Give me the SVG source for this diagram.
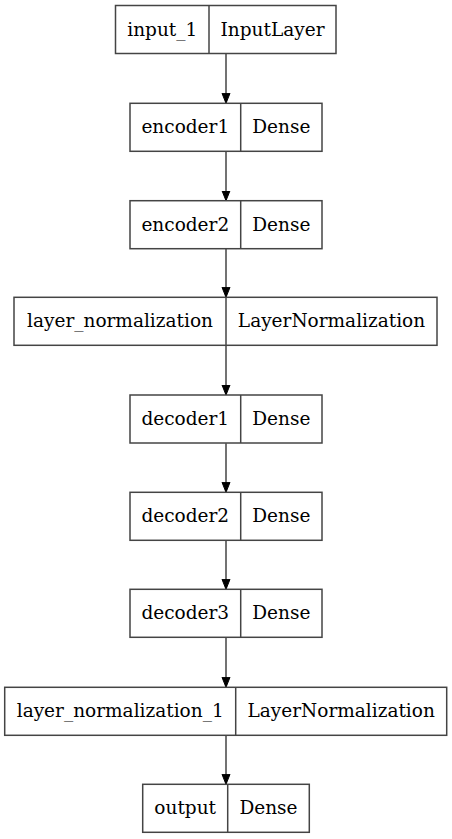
<svg xmlns="http://www.w3.org/2000/svg" width="452" height="839" viewBox="0 0 452 839">
<defs>
<style>
.box{fill:#fff;stroke:#444;stroke-width:1.5}
.div{stroke:#444;stroke-width:1.5}
.t{font-family:"DejaVu Serif","Liberation Serif",serif;font-size:18.5px;fill:#000;text-anchor:middle}
.e{stroke:#444;stroke-width:1.5;fill:none}
</style>
<marker id="ah" markerWidth="10" markerHeight="10" refX="10" refY="5" orient="auto" markerUnits="userSpaceOnUse"><path d="M0,1 L10,5 L0,9 Z" fill="#000" stroke="#000" stroke-width="1"/></marker>
</defs>
<rect width="452" height="839" fill="#fff"/>
<g id="connectors">
<line class="e" x1="226" y1="53.5" x2="226" y2="103.3" marker-end="url(#ah)"/>
<line class="e" x1="226" y1="151" x2="226" y2="200.7" marker-end="url(#ah)"/>
<line class="e" x1="226" y1="248" x2="226" y2="297.3" marker-end="url(#ah)"/>
<line class="e" x1="226" y1="345.5" x2="226" y2="395" marker-end="url(#ah)"/>
<line class="e" x1="226" y1="443.3" x2="226" y2="492.3" marker-end="url(#ah)"/>
<line class="e" x1="226" y1="540.7" x2="226" y2="589.3" marker-end="url(#ah)"/>
<line class="e" x1="226" y1="637.3" x2="226" y2="687.3" marker-end="url(#ah)"/>
<line class="e" x1="226" y1="735" x2="226" y2="784.3" marker-end="url(#ah)"/>
</g>
<g id="input_1">
<rect class="box" x="115.5" y="5.5" width="220.5" height="48"/>
<line class="div" x1="209" y1="5.5" x2="209" y2="53.5"/>
<text class="t" x="162.3" y="35.5">input_1</text>
<text class="t" x="272.5" y="35.5">InputLayer</text>
</g>
<g id="encoder1">
<rect class="box" x="130" y="103.3" width="192" height="48"/>
<line class="div" x1="240.7" y1="103.3" x2="240.7" y2="151.3"/>
<text class="t" x="185.3" y="133.3">encoder1</text>
<text class="t" x="281.3" y="133.3">Dense</text>
</g>
<g id="encoder2">
<rect class="box" x="130" y="200.7" width="192" height="48"/>
<line class="div" x1="240.7" y1="200.7" x2="240.7" y2="248.7"/>
<text class="t" x="185.3" y="230.7">encoder2</text>
<text class="t" x="281.3" y="230.7">Dense</text>
</g>
<g id="layer_normalization">
<rect class="box" x="14" y="297.3" width="423" height="48"/>
<line class="div" x1="226" y1="297.3" x2="226" y2="345.3"/>
<text class="t" x="120" y="327.3">layer_normalization</text>
<text class="t" x="331.5" y="327.3">LayerNormalization</text>
</g>
<g id="decoder1">
<rect class="box" x="130" y="395" width="192" height="48"/>
<line class="div" x1="240.7" y1="395" x2="240.7" y2="443"/>
<text class="t" x="185.3" y="425">decoder1</text>
<text class="t" x="281.3" y="425">Dense</text>
</g>
<g id="decoder2">
<rect class="box" x="130" y="492.3" width="192" height="48"/>
<line class="div" x1="240.7" y1="492.3" x2="240.7" y2="540.3"/>
<text class="t" x="185.3" y="522.3">decoder2</text>
<text class="t" x="281.3" y="522.3">Dense</text>
</g>
<g id="decoder3">
<rect class="box" x="130" y="589.3" width="192" height="48"/>
<line class="div" x1="240.7" y1="589.3" x2="240.7" y2="637.3"/>
<text class="t" x="185.3" y="619.3">decoder3</text>
<text class="t" x="281.3" y="619.3">Dense</text>
</g>
<g id="layer_normalization_1">
<rect class="box" x="4.7" y="687.3" width="442" height="48"/>
<line class="div" x1="235.7" y1="687.3" x2="235.7" y2="735.3"/>
<text class="t" x="120.2" y="717.3">layer_normalization_1</text>
<text class="t" x="341.2" y="717.3">LayerNormalization</text>
</g>
<g id="output">
<rect class="box" x="142.7" y="784.3" width="166.6" height="48"/>
<line class="div" x1="227.7" y1="784.3" x2="227.7" y2="832.3"/>
<text class="t" x="185.2" y="814.3">output</text>
<text class="t" x="268.5" y="814.3">Dense</text>
</g>
</svg>
